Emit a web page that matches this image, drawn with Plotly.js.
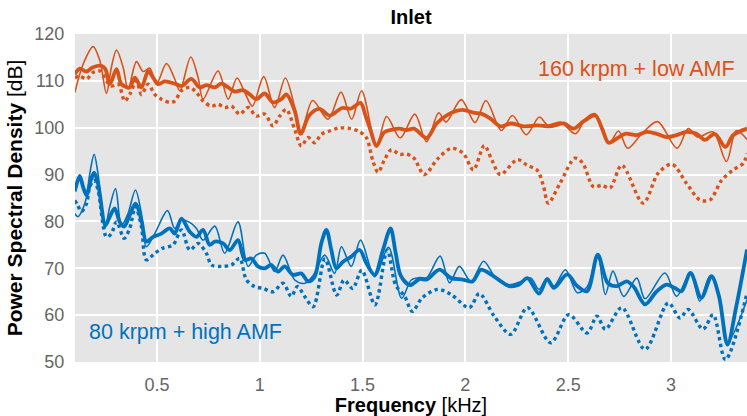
<!DOCTYPE html>
<html>
<head>
<meta charset="utf-8">
<script src="https://cdn.plot.ly/plotly-3.0.1.min.js"></script>
<style>
  html, body { margin: 0; padding: 0; background: #ffffff; }
  #chart { width: 747px; height: 416px; }
</style>
</head>
<body>
<div id="chart"></div>
<script>
// Inlet power spectral density, two operating points, three measurements each.
// Frequencies in kHz, levels in dB.

// 160 krpm + low AMF
const freqOrangeThick = [0.100,0.124,0.157,0.189,0.230,0.249,0.270,0.303,0.327,0.367,0.392,0.424,0.457,0.481,0.505,0.538,0.586,0.619,0.667,0.708,0.740,0.781,0.813,0.846,0.878,0.918,0.951,0.983,1.024,1.064,1.105,1.129,1.170,1.199,1.240,1.290,1.340,1.400,1.445,1.490,1.515,1.540,1.567,1.605,1.645,1.680,1.714,1.750,1.812,1.860,1.915,1.985,2.040,2.076,2.120,2.170,2.221,2.285,2.350,2.415,2.479,2.527,2.576,2.632,2.665,2.697,2.737,2.777,2.834,2.882,2.931,2.979,3.027,3.076,3.124,3.165,3.213,3.265,3.302,3.370];
const psdOrangeThick  = [111.4,112.6,112.0,112.9,113.2,112.5,109.3,112.5,109.3,108.6,110.7,108.6,112.1,110.7,109.3,109.9,109.4,108.9,110.4,108.6,109.1,108.6,109.4,108.6,107.7,108.0,107.1,106.1,107.3,105.4,106.1,107.1,103.6,98.7,102.6,104.0,102.6,104.2,104.1,105.3,102.5,99.3,96.1,99.0,99.6,99.8,99.5,99.8,97.8,100.9,102.8,103.8,103.2,103.0,102.0,100.3,100.9,100.3,100.5,100.3,100.9,99.8,101.4,102.6,99.8,96.8,97.7,98.7,98.4,99.1,98.7,98.0,98.4,99.1,98.7,97.4,98.7,95.9,98.4,99.8];

const freqOrangeThin = [0.100,0.141,0.189,0.222,0.254,0.278,0.303,0.335,0.359,0.400,0.432,0.465,0.497,0.546,0.586,0.611,0.664,0.700,0.724,0.797,0.846,0.889,0.927,0.964,1.019,1.072,1.124,1.170,1.199,1.257,1.332,1.395,1.447,1.495,1.568,1.617,1.683,1.754,1.811,1.870,1.906,1.980,2.047,2.100,2.175,2.229,2.296,2.360,2.400,2.463,2.535,2.584,2.632,2.700,2.745,2.790,2.860,2.935,3.030,3.084,3.130,3.205,3.270,3.318,3.370];
const psdOrangeThin  = [107.5,113.6,117.3,114.3,107.3,112.9,116.6,112.9,108.2,114.1,112.0,112.7,109.3,113.7,110.4,107.9,115.1,110.7,106.1,112.1,106.1,110.6,107.5,104.6,110.9,104.3,110.6,104.3,98.6,105.8,101.8,107.6,101.8,107.9,96.2,102.4,97.8,102.9,97.0,103.2,101.2,106.0,101.1,105.8,99.4,102.6,98.5,102.3,100.6,101.2,98.7,101.9,103.0,96.8,99.3,95.6,98.8,101.3,95.6,99.8,98.0,99.1,92.8,99.4,97.5];

const freqOrangeDot = [0.100,0.124,0.157,0.189,0.222,0.254,0.278,0.311,0.343,0.367,0.400,0.424,0.457,0.489,0.521,0.562,0.586,0.619,0.659,0.692,0.724,0.765,0.797,0.829,0.862,0.902,0.943,0.983,1.024,1.064,1.097,1.129,1.170,1.202,1.235,1.267,1.299,1.340,1.380,1.429,1.478,1.518,1.550,1.575,1.607,1.640,1.680,1.714,1.750,1.800,1.866,1.933,1.990,2.039,2.092,2.130,2.170,2.253,2.300,2.350,2.380,2.403,2.460,2.533,2.570,2.623,2.665,2.703,2.761,2.865,2.938,3.005,3.076,3.141,3.190,3.247,3.303,3.352,3.370];
const psdOrangeDot  = [110.7,111.0,110.4,111.8,112.1,110.0,108.9,109.3,105.7,107.1,110.0,107.1,109.3,107.1,106.1,105.4,105.7,107.9,108.6,107.5,105.7,104.6,105.0,104.3,104.6,102.9,104.3,102.5,102.9,100.4,102.5,103.9,99.6,96.1,97.9,96.8,98.6,99.3,99.9,99.9,99.3,97.9,92.9,90.5,93.2,95.3,94.3,94.4,93.5,90.0,93.4,95.6,94.5,91.0,96.2,93.0,90.0,93.2,92.0,90.9,87.5,83.9,88.1,93.5,92.5,87.4,87.7,87.1,92.0,83.9,90.3,92.2,88.1,84.6,84.6,88.8,91.0,92.4,94.5];

// 80 krpm + high AMF
const freqBlueThick = [0.100,0.124,0.140,0.157,0.178,0.194,0.213,0.249,0.270,0.294,0.319,0.340,0.367,0.395,0.424,0.448,0.481,0.521,0.562,0.586,0.619,0.659,0.692,0.724,0.756,0.781,0.821,0.854,0.894,0.927,0.959,0.991,1.024,1.056,1.089,1.121,1.162,1.202,1.235,1.267,1.299,1.324,1.348,1.372,1.405,1.445,1.486,1.518,1.559,1.599,1.636,1.660,1.685,1.730,1.777,1.812,1.874,1.931,1.987,2.035,2.076,2.124,2.173,2.213,2.260,2.302,2.358,2.398,2.431,2.495,2.544,2.592,2.644,2.692,2.737,2.785,2.820,2.874,2.931,2.979,3.019,3.052,3.095,3.148,3.197,3.234,3.275,3.318,3.370];
const psdBlueThick  = [86.4,89.7,87.4,85.6,88.8,90.4,88.1,79.2,81.0,82.8,79.9,78.9,81.3,83.8,80.3,75.7,76.7,77.4,78.5,77.4,80.6,77.8,76.7,78.2,75.0,75.7,75.3,73.9,76.0,71.8,72.1,70.4,70.0,70.7,69.3,70.4,68.6,68.9,67.2,68.2,75.3,78.2,73.9,70.0,71.4,72.5,73.9,71.1,68.6,73.9,78.5,73.5,68.5,66.4,67.7,67.6,69.7,67.9,67.6,67.2,69.7,68.7,67.2,66.2,66.5,67.9,64.6,67.7,65.8,68.7,66.2,65.1,72.9,66.9,66.2,67.2,66.0,62.3,65.1,66.5,65.8,65.1,69.0,63.7,68.3,64.0,53.7,61.9,74.0];

const freqBlueThin = [0.100,0.116,0.140,0.157,0.173,0.194,0.213,0.246,0.270,0.298,0.327,0.359,0.395,0.424,0.448,0.489,0.551,0.586,0.619,0.659,0.692,0.724,0.781,0.829,0.894,0.943,0.983,1.024,1.072,1.113,1.170,1.218,1.260,1.316,1.364,1.397,1.445,1.490,1.559,1.626,1.690,1.737,1.777,1.812,1.877,1.923,1.971,2.027,2.089,2.148,2.213,2.260,2.318,2.358,2.398,2.431,2.487,2.544,2.592,2.644,2.681,2.718,2.770,2.834,2.874,2.971,3.027,3.095,3.140,3.189,3.234,3.273,3.370];
const psdBlueThin  = [81.7,81.0,82.8,85.2,90.2,94.3,90.2,78.5,83.1,87.0,79.2,81.7,86.7,81.7,74.6,77.4,82.3,78.5,80.3,79.8,78.5,76.0,79.0,73.2,79.9,70.4,72.8,73.2,69.3,72.8,67.5,66.8,68.5,72.8,68.9,74.6,70.4,76.0,68.2,74.5,63.6,67.5,68.0,68.0,72.6,66.9,70.4,67.2,71.5,67.9,66.5,67.0,67.9,65.5,67.9,66.2,69.7,64.8,66.0,72.6,64.4,69.4,64.0,67.9,63.5,69.0,64.0,69.0,63.0,68.3,64.5,54.1,63.3];

const freqBlueDot = [0.100,0.115,0.132,0.157,0.173,0.194,0.213,0.254,0.278,0.303,0.340,0.367,0.395,0.424,0.448,0.489,0.529,0.578,0.619,0.659,0.700,0.740,0.765,0.813,0.862,0.902,0.935,0.975,1.016,1.064,1.113,1.153,1.183,1.218,1.260,1.317,1.374,1.410,1.452,1.496,1.560,1.620,1.660,1.705,1.742,1.790,1.866,1.931,2.019,2.068,2.140,2.221,2.302,2.415,2.503,2.592,2.640,2.681,2.761,2.874,2.987,3.044,3.084,3.156,3.205,3.265,3.370];
const psdBlueDot  = [84.5,83.4,82.1,83.8,87.4,88.8,86.7,76.7,77.4,79.9,76.4,78.5,83.1,78.9,71.8,73.2,74.3,75.0,78.2,73.9,75.3,73.2,70.7,70.4,70.7,72.1,67.5,66.1,65.7,65.0,66.8,64.0,66.1,64.0,61.8,72.0,64.3,67.5,65.7,69.6,62.2,73.9,66.5,64.0,60.8,63.7,65.5,64.4,61.6,64.6,59.8,55.9,61.6,54.1,60.1,56.2,59.8,57.0,61.6,52.7,62.6,59.4,61.2,57.0,60.1,50.5,64.7];

const xTickVals = [0.5, 1, 1.5, 2, 2.5, 3];
const xTickText = ['0.5', '1', '1.5', '2', '2.5', '3'];
const yTickVals = [50, 60, 70, 80, 90, 100, 110, 120];

const ORANGE = '#D95319';
const BLUE = '#0072BD';
const FONT = '"Liberation Sans", Arial, Helvetica, sans-serif';

function series(x, y, color, width, dash) {
  return {
    x: x, y: y, type: 'scatter', mode: 'lines', hoverinfo: 'skip',
    line: { color: color, width: width, dash: dash, shape: 'spline', smoothing: 0.9 }
  };
}

const data = [
  series(freqBlueDot, psdBlueDot, BLUE, 3.4, 'dot'),
  series(freqBlueThin, psdBlueThin, BLUE, 1.6, 'solid'),
  series(freqBlueThick, psdBlueThick, BLUE, 3.8, 'solid'),
  series(freqOrangeDot, psdOrangeDot, ORANGE, 3.4, 'dot'),
  series(freqOrangeThin, psdOrangeThin, ORANGE, 1.6, 'solid'),
  series(freqOrangeThick, psdOrangeThick, ORANGE, 3.8, 'solid')
];

const layout = {
  width: 747, height: 416,
  margin: { l: 75, r: 0, t: 34, b: 54, pad: 0 },
  paper_bgcolor: '#ffffff',
  plot_bgcolor: '#e5e5e5',
  showlegend: false,
  font: { family: FONT, size: 18, color: '#666666' },
  title: {
    text: '<b>Inlet</b>',
    font: { family: FONT, size: 20, color: '#000000' },
    x: 0.5, xref: 'paper', xanchor: 'center',
    y: 0.958, yref: 'container', yanchor: 'middle'
  },
  xaxis: {
    range: [0.101, 3.37],
    tickvals: xTickVals, ticktext: xTickText,
    ticks: 'outside', ticklen: 6, tickcolor: 'rgba(0,0,0,0)',
    tickfont: { family: FONT, size: 18, color: '#666666' },
    showgrid: true, gridcolor: '#ffffff', gridwidth: 2,
    zeroline: false, showline: false, automargin: false,
    title: {
      text: '<b>Frequency</b> [kHz]',
      font: { family: FONT, size: 20, color: '#000000' },
      standoff: 6
    }
  },
  yaxis: {
    range: [50, 120],
    tickvals: yTickVals,
    ticks: 'outside', ticklen: 6, tickcolor: 'rgba(0,0,0,0)',
    tickfont: { family: FONT, size: 18, color: '#666666' },
    showgrid: true, gridcolor: '#ffffff', gridwidth: 2,
    zeroline: false, showline: false, automargin: false,
    title: {
      text: '<b>Power Spectral Density</b> [dB]',
      font: { family: FONT, size: 21, color: '#000000' },
      standoff: 6
    }
  },
  annotations: [
    {
      text: '160 krpm + low AMF', showarrow: false,
      xref: 'paper', yref: 'paper',
      x: 0.985, y: 0.893, xanchor: 'right', yanchor: 'middle',
      font: { family: FONT, size: 21.5, color: ORANGE }
    },
    {
      text: '80 krpm + high AMF', showarrow: false,
      xref: 'paper', yref: 'paper',
      x: 0.0185, y: 0.091, xanchor: 'left', yanchor: 'middle',
      font: { family: FONT, size: 21.5, color: BLUE }
    }
  ]
};

Plotly.newPlot('chart', data, layout, { staticPlot: true, displayModeBar: false });
</script>
</body>
</html>
